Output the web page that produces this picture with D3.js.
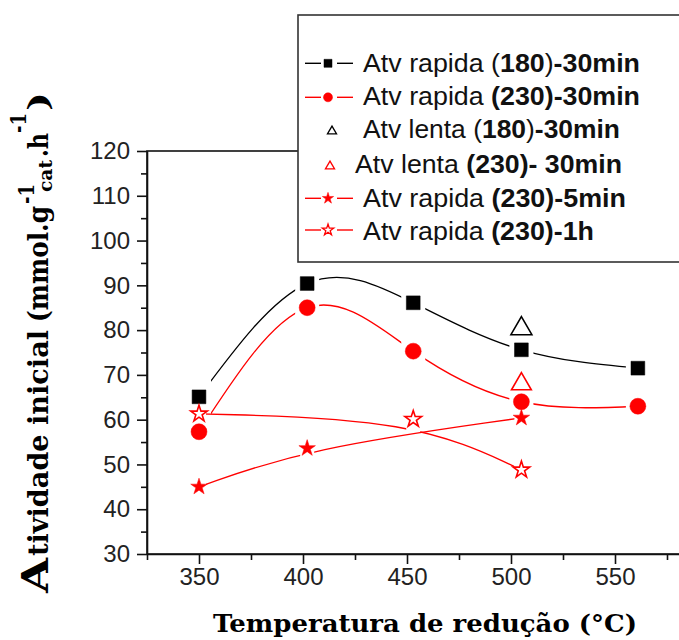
<!DOCTYPE html>
<html>
<head>
<meta charset="utf-8">
<script src="https://cdn.jsdelivr.net/npm/d3@7/dist/d3.min.js"></script>
<style>
  body { margin: 0; background: #fff; }
  svg { display: block; }
</style>
</head>
<body>
<svg id="chart" width="679" height="640"></svg>
<script>
// Initial activity vs. reduction temperature, one array per series
const tempsRapida180_30 = [350, 402, 453, 505, 561];
const rapida180_30 = [65.1, 90.4, 86.1, 75.6, 71.5];
const tempsRapida230_30 = [350, 402, 453, 505, 561];
const rapida230_30 = [57.3, 85.0, 75.3, 64.0, 63.0];
const tempsLenta = [505];
const lenta180_30 = [81.0];
const lenta230_30 = [68.6];
const tempsRapida230_5 = [350, 402, 505];
const rapida230_5 = [45.0, 53.6, 60.4];
const tempsRapida230_1h = [350, 453, 505];
const rapida230_1h = [61.3, 60.1, 48.8];

const xTicks = [350, 400, 450, 500, 550];
const xMinorTicks = [325, 375, 425, 475, 525, 575];
const yTicks = [30, 40, 50, 60, 70, 80, 90, 100, 110, 120];
const yMinorTicks = [35, 45, 55, 65, 75, 85, 95, 105, 115];

// Legend rows: pieces of text, [string, bold?]
const legendRows = [
  [["Atv rapida (", false], ["180", true], [")", false], ["-30min", true]],
  [["Atv rapida ", false], ["(230)-30min", true]],
  [["Atv lenta (", false], ["180", true], [")", false], ["-30min", true]],
  [["Atv lenta ", false], ["(230)- 30min", true]],
  [["Atv rapida ", false], ["(230)-5min", true]],
  [["Atv rapida ", false], ["(230)-1h", true]]
];

const RED = "#ff0000";
const BLACK = "#000000";

const svg = d3.select("#chart");

const x = d3.scaleLinear().domain([325, 600]).range([147, 719]);
const y = d3.scaleLinear().domain([30, 120]).range([554, 151]);

// Triangle centred on its bounding box
const triangleBox = {
  draw(ctx, size) {
    const w = Math.sqrt(size * 4 / Math.sqrt(3));
    const h = w * Math.sqrt(3) / 2;
    ctx.moveTo(0, -h / 2);
    ctx.lineTo(w / 2, h / 2);
    ctx.lineTo(-w / 2, h / 2);
    ctx.closePath();
  }
};
const symbolPath = (type, size) => d3.symbol().type(type).size(size)();

// Series definitions
const series = [
  { id: "r180", xs: tempsRapida180_30, ys: rapida180_30, color: BLACK, curve: d3.curveNatural,
    shape: d3.symbolSquare, size: 190, fill: BLACK, gap: 12, legend: { shape: d3.symbolSquare, size: 64, line: true } },
  { id: "r230", xs: tempsRapida230_30, ys: rapida230_30, color: RED, curve: d3.curveNatural,
    shape: d3.symbolCircle, size: 200, fill: RED, gap: 12, legend: { shape: d3.symbolCircle, size: 64, line: true } },
  { id: "l180", xs: tempsLenta, ys: lenta180_30, color: BLACK, curve: null,
    shape: triangleBox, size: 190, fill: "#fff", legend: { shape: triangleBox, size: 36, line: false, dx: 4 } },
  { id: "l230", xs: tempsLenta, ys: lenta230_30, color: RED, curve: null,
    shape: triangleBox, size: 170, fill: "#fff", legend: { shape: triangleBox, size: 36, line: false, dx: 2 } },
  { id: "r5", xs: tempsRapida230_5, ys: rapida230_5, color: RED, curve: d3.curveBasis,
    shape: d3.symbolStar, size: 85, fill: RED, gap: 7, legend: { shape: d3.symbolStar, size: 40, line: true } },
  { id: "r1h", xs: tempsRapida230_1h, ys: rapida230_1h, color: RED, curve: d3.curveBasis,
    shape: d3.symbolStar, size: 85, fill: "#fff", gap: 7, legend: { shape: d3.symbolStar, size: 40, line: true } }
];

const defs = svg.append("defs");

// Plot frame (top and right edges run past the visible area)
svg.append("rect")
  .attr("x", x(325)).attr("y", y(120))
  .attr("width", x(600) - x(325)).attr("height", y(30) - y(120))
  .attr("fill", "none").attr("stroke", "#111").attr("stroke-width", 1.6);

// Axes
const axisFont = "'Liberation Sans', Arial, sans-serif";
const gx = svg.append("g").attr("transform", `translate(0,${y(30)})`)
  .call(d3.axisBottom(x).tickValues(xTicks).tickSize(10).tickPadding(4).tickSizeOuter(0).tickFormat(d3.format("d")));
const gxMinor = svg.append("g").attr("transform", `translate(0,${y(30)})`)
  .call(d3.axisBottom(x).tickValues(xMinorTicks).tickSize(6).tickFormat(""));
const gy = svg.append("g").attr("transform", `translate(${x(325)},0)`)
  .call(d3.axisLeft(y).tickValues(yTicks).tickSize(10).tickPadding(7).tickSizeOuter(0).tickFormat(d3.format("d")));
const gyMinor = svg.append("g").attr("transform", `translate(${x(325)},0)`)
  .call(d3.axisLeft(y).tickValues(yMinorTicks).tickSize(6).tickFormat(""));

[gx, gxMinor, gy, gyMinor].forEach(g => {
  g.select(".domain").attr("stroke", "#111").attr("stroke-width", 1.6);
  g.selectAll(".tick line").attr("stroke", "#111").attr("stroke-width", 1.6);
  g.selectAll(".tick text").attr("font-family", axisFont).attr("font-size", 24).attr("fill", "#222");
});
gxMinor.select(".domain").remove();
gyMinor.select(".domain").remove();

// Data lines, with short gaps around each point
const plot = svg.append("g");
series.forEach(s => {
  if (!s.curve) return;
  const pts = s.xs.map((t, i) => [x(t), y(s.ys[i])]);
  const mask = defs.append("mask").attr("id", "gap-" + s.id).attr("maskUnits", "userSpaceOnUse")
    .attr("x", 0).attr("y", 0).attr("width", 679).attr("height", 640);
  mask.append("rect").attr("x", 0).attr("y", 0).attr("width", 679).attr("height", 640).attr("fill", "#fff");
  mask.selectAll("rect.g").data(pts).join("rect").attr("class", "g")
    .attr("x", d => d[0] - s.gap).attr("y", 0).attr("width", s.gap * 2).attr("height", 640).attr("fill", "#000");
  plot.append("path")
    .attr("d", d3.line().curve(s.curve)(pts))
    .attr("fill", "none").attr("stroke", s.color).attr("stroke-width", 1.3)
    .attr("mask", `url(#gap-${s.id})`);
});

// Markers
series.forEach(s => {
  plot.selectAll(null).data(s.xs.map((t, i) => [t, s.ys[i]])).join("path")
    .attr("transform", d => `translate(${x(d[0])},${y(d[1])})`)
    .attr("d", symbolPath(s.shape, s.size))
    .attr("fill", s.fill).attr("stroke", s.color)
    .attr("stroke-width", s.fill === "#fff" ? 1.6 : 0.5);
});

// Legend box
const lg = svg.append("g");
lg.append("rect").attr("x", 298).attr("y", 15).attr("width", 420).attr("height", 247)
  .attr("fill", "#fff").attr("stroke", "#333").attr("stroke-width", 1.6);

const rowCenters = [63.3, 97.3, 130, 165, 198.3, 230];
const rowBaselines = [71.7, 105, 138.3, 173, 206.7, 240];
const rowStarts = [363, 363, 363, 355, 363, 363];
const rowEnds = [640, 640, 620, 622, 626, 594];

series.forEach((s, i) => {
  const cy = rowCenters[i];
  const cx = 328 + (s.legend.dx || 0);
  if (s.legend.line) {
    lg.append("line").attr("x1", 305).attr("x2", 321).attr("y1", cy).attr("y2", cy)
      .attr("stroke", s.color).attr("stroke-width", 1.4);
    lg.append("line").attr("x1", 337).attr("x2", 353).attr("y1", cy).attr("y2", cy)
      .attr("stroke", s.color).attr("stroke-width", 1.4);
  }
  lg.append("path").attr("transform", `translate(${cx},${cy})`)
    .attr("d", symbolPath(s.legend.shape, s.legend.size))
    .attr("fill", s.fill).attr("stroke", s.color)
    .attr("stroke-width", s.fill === "#fff" ? 1.3 : 0.5);

  const t = lg.append("text").attr("x", rowStarts[i]).attr("y", rowBaselines[i])
    .attr("font-family", axisFont).attr("font-size", 26).attr("fill", "#111")
    .attr("textLength", rowEnds[i] - rowStarts[i]).attr("lengthAdjust", "spacingAndGlyphs");
  legendRows[i].forEach(([str, bold]) => {
    t.append("tspan").attr("font-weight", bold ? "bold" : "normal").text(str);
  });
});

// Axis titles
const titleFont = "'DejaVu Serif', 'Liberation Serif', serif";
svg.append("text").attr("x", 213).attr("y", 632)
  .attr("font-family", titleFont).attr("font-weight", "bold").attr("font-size", 25)
  .attr("textLength", 424).attr("lengthAdjust", "spacingAndGlyphs").attr("fill", "#000")
  .text("Temperatura de redução (°C)");

// Rotated y title: pieces laid out along the vertical baseline
const yt = svg.append("g").attr("transform", "translate(48,0) rotate(-90)");
const yPieces = [
  { s: "A", from: 593, to: 558, v: 0, size: 38 },
  { s: "tividade inicial", from: 556, to: 330, v: 0, size: 28 },
  { s: "(mmol.g", from: 322, to: 206, v: 0, size: 28 },
  { s: "-1", from: 204, to: 184, v: -14, size: 22 },
  { s: "cat", from: 192, to: 160, v: 4, size: 18 },
  { s: ".h", from: 157, to: 133, v: 0, size: 28 },
  { s: "-1", from: 133, to: 113, v: -22, size: 22 },
  { s: ")", from: 111, to: 92, v: 0, size: 28 }
];
yPieces.forEach(p => {
  yt.append("text").attr("x", -p.from).attr("y", p.v)
    .attr("font-family", titleFont).attr("font-weight", "bold").attr("font-size", p.size)
    .attr("textLength", p.from - p.to).attr("lengthAdjust", "spacingAndGlyphs").attr("fill", "#000")
    .text(p.s);
});
</script>
</body>
</html>
